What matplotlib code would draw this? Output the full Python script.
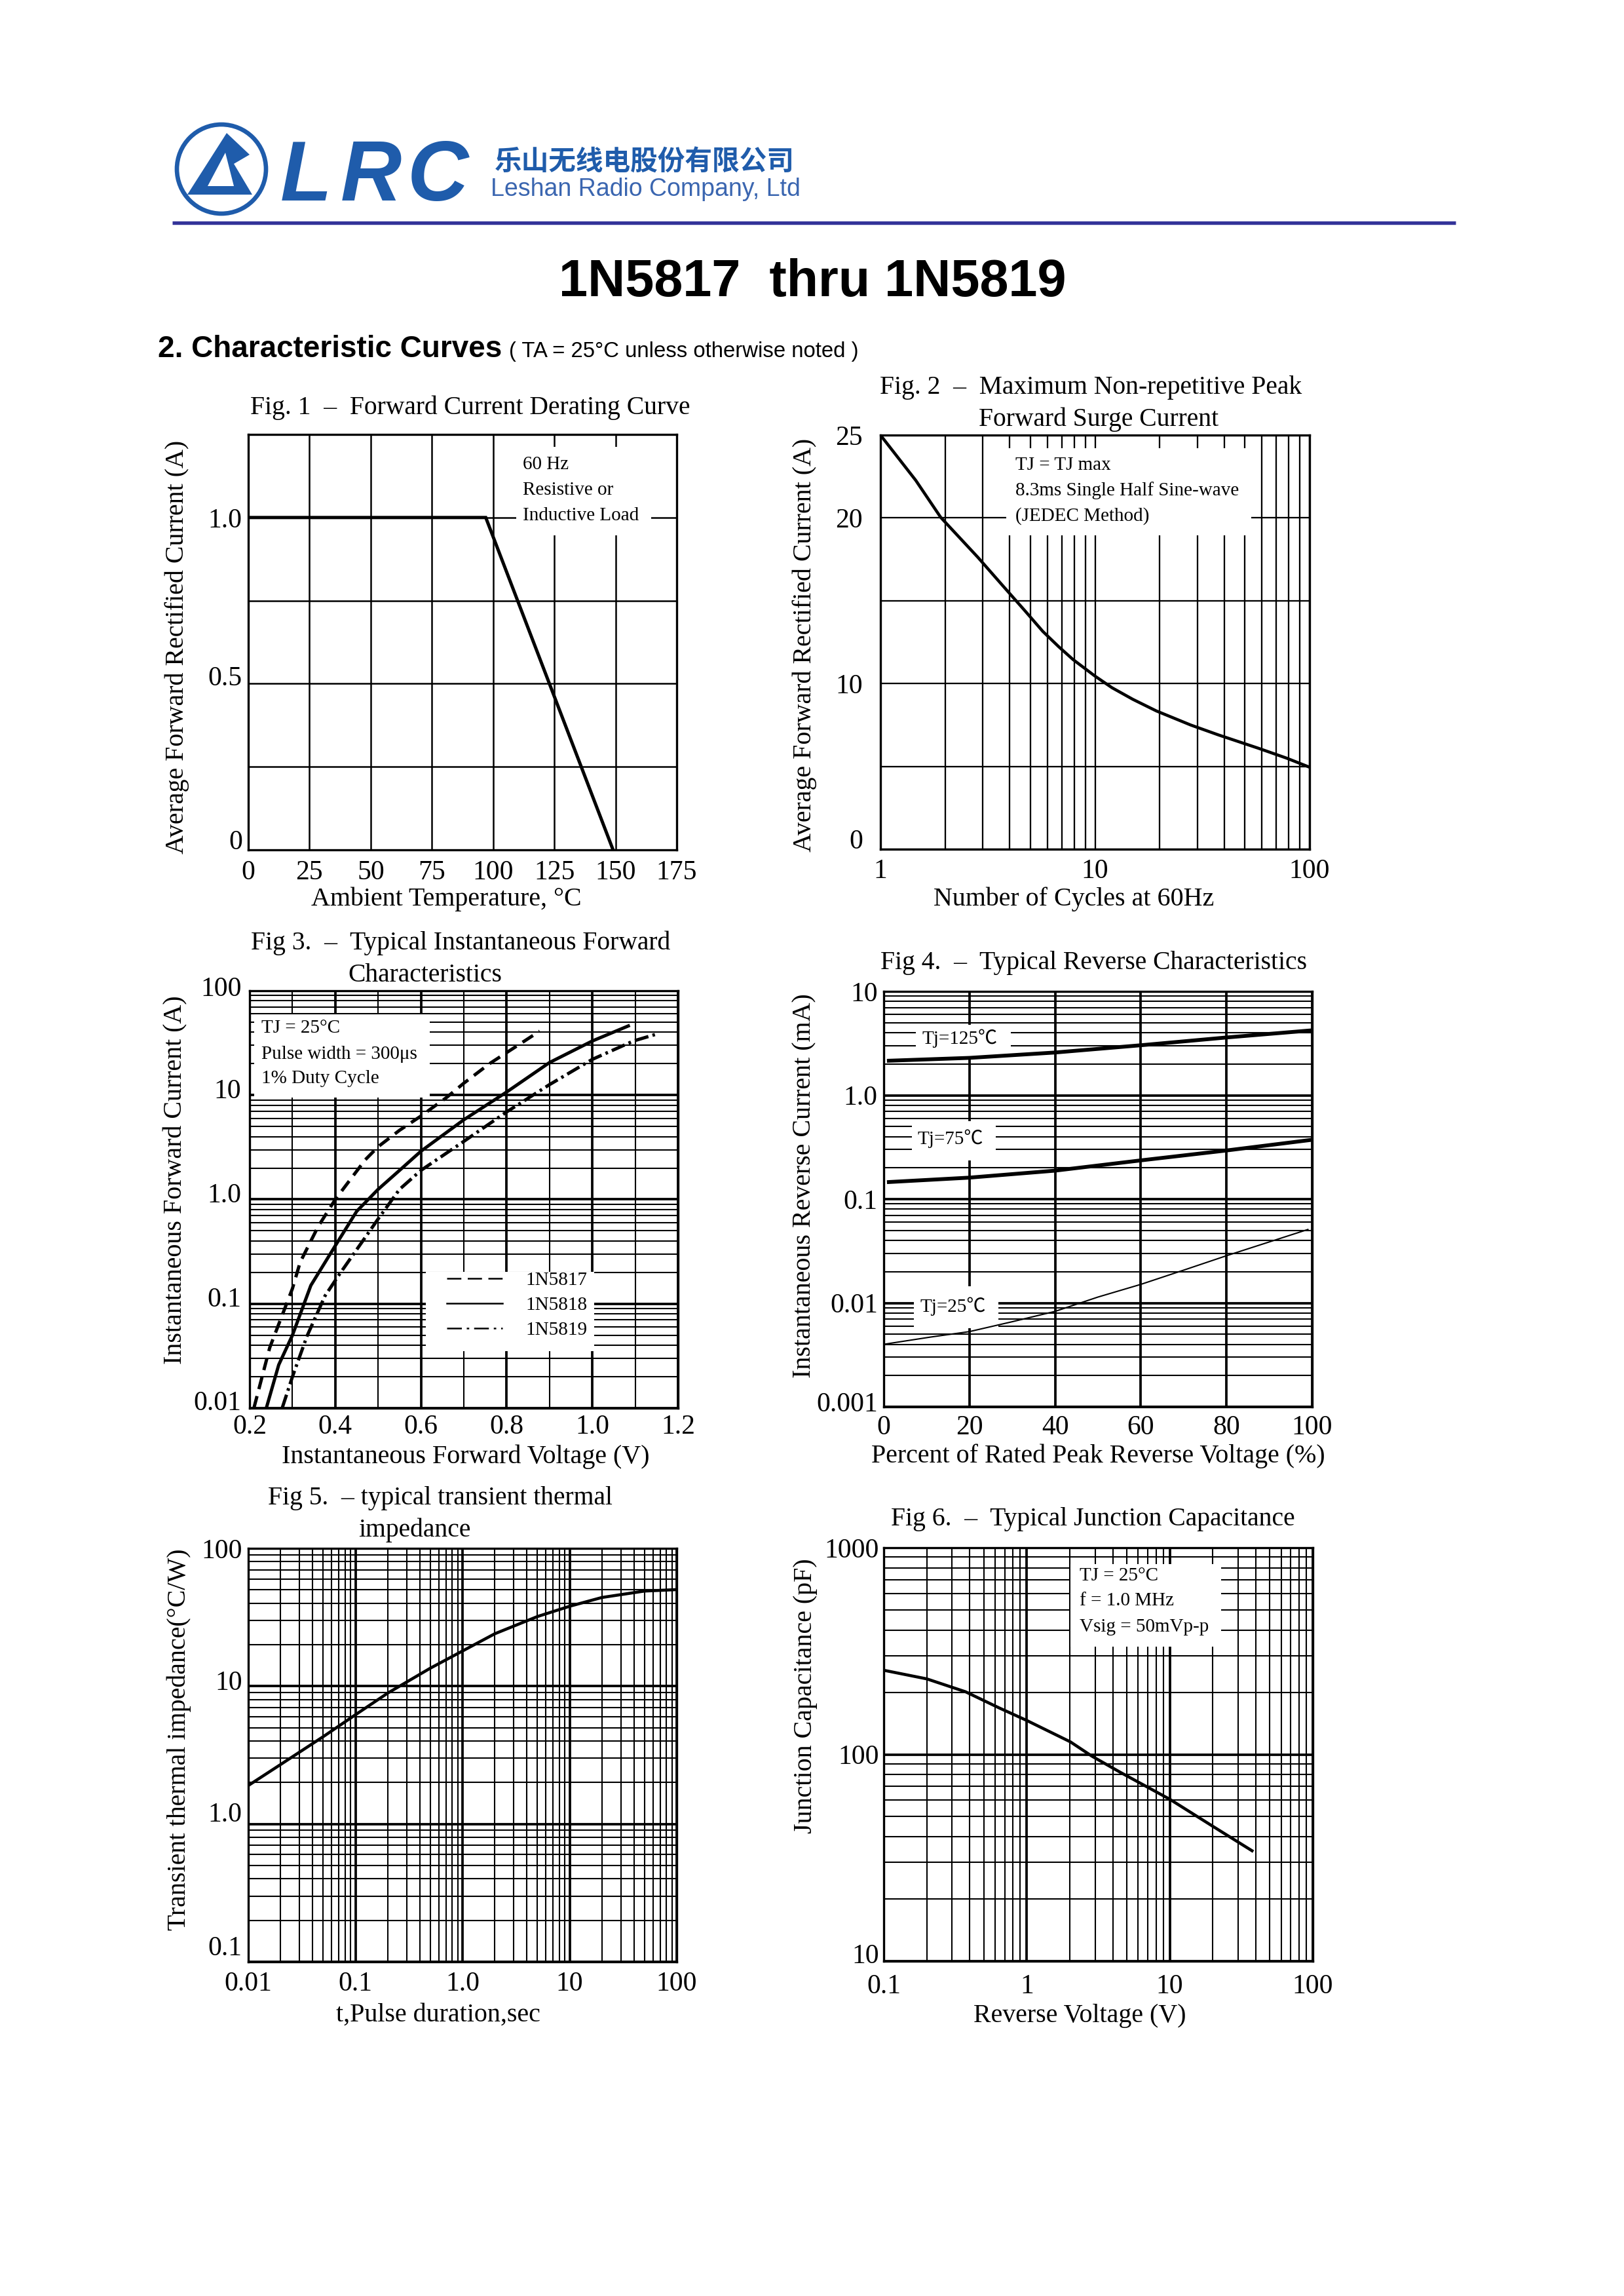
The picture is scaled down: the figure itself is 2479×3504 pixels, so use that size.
import matplotlib
matplotlib.use('Agg')
import matplotlib.pyplot as plt
from matplotlib.patches import Rectangle, Circle, Polygon
from matplotlib.ticker import FixedLocator, NullFormatter
from matplotlib.lines import Line2D
from matplotlib.transforms import ScaledTranslation

plt.rcParams['font.family'] = ['Liberation Serif', 'Noto Sans CJK SC']

# ---------------- data ----------------
# Fig 1 - derating curve
fig1_temp = [0, 97, 149]
fig1_current = [1.0, 1.0, 0.0]
fig1_xticks = [0, 25, 50, 75, 100, 125, 150, 175]
fig1_xlabels = ['0', '25', '50', '75', '100', '125', '150', '175']
fig1_yticks = [0, 0.5, 1.0]
fig1_ylabels = ['0', '0.5', '1.0']

# Fig 2 - surge current
fig2_cycles = [1, 1.46, 1.91, 2.85, 3.75, 4.71, 5.71, 6.78, 7.9, 10, 12, 15, 19.3, 27.9, 37.6, 57.6, 78.1, 100]
fig2_current = [25, 22.27, 20.03, 17.61, 15.85, 14.4, 13.15, 12.22, 11.45, 10.45, 9.75, 9.05, 8.35, 7.5, 6.9, 6.1, 5.5, 4.95]
fig2_xticks = [1, 10, 100]
fig2_xlabels = ['1', '10', '100']
fig2_yticks = [0, 10, 20, 25]
fig2_ylabels = ['0', '10', '20', '25']

# Fig 3 - forward characteristics
v_1n5817 = [0.21, 0.247, 0.30, 0.318, 0.36, 0.40, 0.47, 0.50, 0.55, 0.60, 0.66, 0.70, 0.76, 0.815, 0.877]
i_1n5817 = [0.01, 0.038, 0.14, 0.25, 0.55, 1.0, 2.4, 3.2, 4.6, 6.3, 9.5, 13, 20, 28, 41]
v_1n5818 = [0.239, 0.268, 0.30, 0.343, 0.40, 0.45, 0.50, 0.55, 0.60, 0.70, 0.80, 0.90, 1.00, 1.084]
i_1n5818 = [0.01, 0.026, 0.05, 0.15, 0.36, 0.77, 1.25, 1.9, 2.9, 5.8, 10.7, 20.5, 33, 46]
v_1n5819 = [0.276, 0.30, 0.334, 0.376, 0.409, 0.50, 0.55, 0.60, 0.70, 0.80, 0.90, 1.00, 1.096, 1.146]
i_1n5819 = [0.01, 0.02, 0.049, 0.119, 0.19, 0.65, 1.25, 1.9, 3.6, 6.9, 12.6, 22, 33, 38]
fig3_xticks = [0.2, 0.4, 0.6, 0.8, 1.0, 1.2]
fig3_xlabels = ['0.2', '0.4', '0.6', '0.8', '1.0', '1.2']
fig3_yticks = [0.01, 0.1, 1, 10, 100]
fig3_ylabels = ['0.01', '0.1', '1.0', '10', '100']

# Fig 4 - reverse characteristics
pct_125 = [1.2, 20, 40, 60, 80, 99.4]
ir_125 = [2.15, 2.29, 2.58, 3.03, 3.6, 4.2]
pct_75 = [1.2, 20, 40, 60, 80, 99.4]
ir_75 = [0.146, 0.161, 0.188, 0.236, 0.294, 0.37]
pct_25 = [0, 11, 20, 30, 40, 50, 60, 70, 80, 99]
ir_25 = [0.0040, 0.0047, 0.0053, 0.0066, 0.0083, 0.0114, 0.0151, 0.0207, 0.0285, 0.051]
fig4_xticks = [0, 20, 40, 60, 80, 100]
fig4_xlabels = ['0', '20', '40', '60', '80', '100']
fig4_yticks = [0.001, 0.01, 0.1, 1, 10]
fig4_ylabels = ['0.001', '0.01', '0.1', '1.0', '10']

# Fig 5 - transient thermal impedance
pulse_t = [0.0104, 0.02, 0.05, 0.1, 0.2, 0.5, 1, 2, 5, 10, 20, 50, 100]
z_th = [1.94, 2.7, 4.3, 6.2, 8.9, 13.5, 18, 24, 32, 38, 44, 49, 50.2]
fig5_xticks = [0.01, 0.1, 1, 10, 100]
fig5_xlabels = ['0.01', '0.1', '1.0', '10', '100']
fig5_yticks = [0.1, 1, 10, 100]
fig5_ylabels = ['0.1', '1.0', '10', '100']

# Fig 6 - junction capacitance
v_rev = [0.104, 0.2, 0.373, 0.64, 1.0, 2.02, 2.86, 4.5, 10, 20, 37.6]
c_j = [254, 232, 201, 168, 146, 115, 98, 82, 60.7, 44.9, 34.2]
fig6_xticks = [0.1, 1, 10, 100]
fig6_xlabels = ['0.1', '1', '10', '100']
fig6_yticks = [10, 100, 1000]
fig6_ylabels = ['10', '100', '1000']

# ---------------- page ----------------
W, H, DPI = 2479, 3504, 300
fig = plt.figure(figsize=(W / DPI, H / DPI), dpi=DPI, facecolor='white')
page = fig.add_axes([0, 0, 1, 1])
page.set_xlim(0, W)
page.set_ylim(H, 0)
page.axis('off')

BLUE = '#1f5cab'
# logo
page.add_patch(Circle((338, 258), 68, fill=False, lw=1.6, ec=BLUE))
page.add_patch(Polygon([(346, 203), (381, 236), (357, 250), (385, 297), (286, 297)],
                       closed=True, fc=BLUE, ec='none'))
page.add_patch(Polygon([(317, 284), (344, 233), (357, 284)], closed=True, fc='white', ec='none'))
for ch, cx in zip('LRC', [467, 566, 668]):
    page.text(cx, 306, ch, ha='center', va='baseline', fontsize=31, fontweight='bold',
              style='italic', family='Liberation Sans', color=BLUE)
page.text(984, 248, '乐山无线电股份有限公司', ha='center', va='center', fontsize=10,
          family='Noto Sans CJK SC', fontweight='bold', color=BLUE)
page.text(985, 299, 'Leshan Radio Company, Ltd', ha='center', va='baseline', fontsize=9,
          family='Liberation Sans', color='#3b66b0')
page.plot([263, 2222], [340, 340], color='#333399', lw=1.3, solid_capstyle='butt')

page.text(1240, 452, '1N5817  thru 1N5819', ha='center', va='baseline', fontsize=19,
          fontweight='bold', family='Liberation Sans')
page.text(241, 545, '2. Characteristic Curves', ha='left', va='baseline', fontsize=11,
          fontweight='bold', family='Liberation Sans')
page.text(777, 545, '( TA = 25°C unless otherwise noted )', ha='left', va='baseline',
          fontsize=7.9, family='Liberation Sans')


def make_axes(x0, y0, x1, y1):
    return fig.add_axes([x0 / W, 1 - y1 / H, (x1 - x0) / W, (y1 - y0) / H])


def style(ax, xscale, yscale, xlim, ylim, xmaj, xlab, xmin_, ymaj, ylab, ymin_,
          xpad, ypad, major_lw=0.55, minor_lw=0.55):
    ax.set_xscale(xscale)
    ax.set_yscale(yscale)
    ax.set_xlim(*xlim)
    ax.set_ylim(*ylim)
    ax.xaxis.set_major_locator(FixedLocator(xmaj))
    ax.xaxis.set_minor_locator(FixedLocator(xmin_))
    ax.yaxis.set_major_locator(FixedLocator(ymaj))
    ax.yaxis.set_minor_locator(FixedLocator(ymin_))
    ax.set_xticklabels(xlab)
    ax.set_yticklabels(ylab)
    ax.xaxis.set_minor_formatter(NullFormatter())
    ax.yaxis.set_minor_formatter(NullFormatter())
    ax.tick_params(which='both', length=0, labelsize=10)
    ax.tick_params(axis='x', pad=xpad)
    ax.tick_params(axis='y', pad=ypad)
    ax.grid(True, which='major', color='black', linewidth=major_lw)
    ax.grid(True, which='minor', color='black', linewidth=minor_lw)
    ax.set_axisbelow(True)
    for s in ax.spines.values():
        s.set_linewidth(0.8)
        s.set_zorder(2.5)


def raise_ylabels(ax, shifts_pt):
    """Nudge y tick labels upward (points), as in the printed sheet."""
    for lab, dy in zip(ax.get_yticklabels(), shifts_pt):
        if dy:
            lab.set_transform(lab.get_transform() +
                              ScaledTranslation(0, dy / 72.0, fig.dpi_scale_trans))


def blank(ax, x0, y0, x1, y1):
    ax.add_patch(Rectangle((x0, y0), x1 - x0, y1 - y0, transform=ax.transAxes,
                           facecolor='white', edgecolor='none', zorder=1))


def note(ax, x, y, s, ha='left'):
    ax.text(x, y, s, transform=ax.transAxes, fontsize=7, ha=ha, va='center', zorder=4)


def log_minors(e0, e1):
    return [k * 10.0 ** e for e in range(e0, e1) for k in range(2, 10)]


TSZ = 9.5
LSZ = 9.6

# ---------------- Fig 1 ----------------
ax1 = make_axes(379, 663, 1033, 1297)
style(ax1, 'linear', 'linear', (0, 175), (0, 1.25), fig1_xticks, fig1_xlabels, [],
      fig1_yticks, fig1_ylabels, [0.25, 0.75, 1.25], xpad=3.8, ypad=2.2, major_lw=0.6, minor_lw=0.6)
raise_ylabels(ax1, [3.8, 3.0, 0])
blank(ax1, 0.6255, 0.757, 0.940, 0.970)
note(ax1, 0.640, 0.928, '60 Hz')
note(ax1, 0.640, 0.866, 'Resistive or')
note(ax1, 0.640, 0.805, 'Inductive Load')
ax1.plot(fig1_temp, fig1_current, color='black', lw=1.2, zorder=3, solid_joinstyle='miter')
page.text(718, 632, 'Fig. 1  –  Forward Current Derating Curve', ha='center', va='baseline', fontsize=TSZ)
page.text(681, 1382, 'Ambient Temperature, °C', ha='center', va='baseline', fontsize=LSZ)
page.text(270, 987, 'Average Forward Rectified Current (A)', ha='center', va='center',
          rotation=90, fontsize=LSZ)

# ---------------- Fig 2 ----------------
ax2 = make_axes(1344, 664, 1999, 1296)
fig2_xminor = [k * 10.0 ** e for e in range(0, 2) for k in range(2, 10)]
style(ax2, 'log', 'linear', (1, 100), (0, 25), fig2_xticks, fig2_xlabels, fig2_xminor,
      fig2_yticks, fig2_ylabels, [5, 15], xpad=3.4, ypad=6.5, major_lw=0.55, minor_lw=0.55)
raise_ylabels(ax2, [3.8, 0, 0, 0])
blank(ax2, 0.293, 0.758, 0.864, 0.969)
note(ax2, 0.314, 0.928, 'TJ = TJ max')
note(ax2, 0.314, 0.866, '8.3ms Single Half Sine-wave')
note(ax2, 0.314, 0.804, '(JEDEC Method)')
ax2.plot(fig2_cycles, fig2_current, color='black', lw=1.1, zorder=3)
page.text(1665, 601, 'Fig. 2  –  Maximum Non-repetitive Peak', ha='center', va='baseline', fontsize=TSZ)
page.text(1677, 650, 'Forward Surge Current', ha='center', va='baseline', fontsize=TSZ)
page.text(1639, 1382, 'Number of Cycles at 60Hz', ha='center', va='baseline', fontsize=LSZ)
page.text(1228, 984, 'Average Forward Rectified Current (A)', ha='center', va='center',
          rotation=90, fontsize=LSZ)

# ---------------- Fig 3 ----------------
ax3 = make_axes(381, 1512, 1035, 2149)
fig3_xminor = [0.3, 0.5, 0.7, 0.9, 1.1]
style(ax3, 'linear', 'log', (0.2, 1.2), (0.01, 100), fig3_xticks, fig3_xlabels, fig3_xminor,
      fig3_yticks, fig3_ylabels, log_minors(-2, 2), xpad=2.4, ypad=3.0, major_lw=0.9, minor_lw=0.5)
raise_ylabels(ax3, [2.7, 2.5, 2.5, 2.5, 1.5])
blank(ax3, 0.010, 0.744, 0.420, 0.943)
note(ax3, 0.028, 0.910, 'TJ = 25°C')
note(ax3, 0.028, 0.848, 'Pulse width = 300μs')
note(ax3, 0.028, 0.789, '1% Duty Cycle')
blank(ax3, 0.412, 0.137, 0.805, 0.326)
ax3.plot(v_1n5817, i_1n5817, color='black', lw=1.2, ls=(0, (3.8, 2.2)), zorder=3)
ax3.plot(v_1n5818, i_1n5818, color='black', lw=1.2, zorder=3)
ax3.plot(v_1n5819, i_1n5819, color='black', lw=1.2, ls=(0, (4.3, 1.3, 0.8, 1.3)), zorder=3)
handles = [Line2D([], [], color='black', lw=0.6, ls=(0, (8.7, 3.9))),
           Line2D([], [], color='black', lw=0.6),
           Line2D([], [], color='black', lw=0.6, ls=(0, (9, 3, 1.5, 3)))]
leg = ax3.legend(handles, ['1N5817', '1N5818', '1N5819'], loc='center left',
                 bbox_to_anchor=(0.461, 0.247), frameon=False, fontsize=7,
                 handlelength=2.9, handletextpad=1.2, labelspacing=0.4,
                 borderpad=0, borderaxespad=0)
leg.set_zorder(5)
page.text(703, 1449, 'Fig 3.  –  Typical Instantaneous Forward', ha='center', va='baseline', fontsize=TSZ)
page.text(649, 1498, 'Characteristics', ha='center', va='baseline', fontsize=TSZ)
page.text(711, 2233, 'Instantaneous Forward Voltage (V)', ha='center', va='baseline', fontsize=LSZ)
page.text(268, 1801, 'Instantaneous Forward Current (A)', ha='center', va='center',
          rotation=90, fontsize=LSZ)

# ---------------- Fig 4 ----------------
ax4 = make_axes(1349, 1513, 2003, 2147)
style(ax4, 'linear', 'log', (0, 100), (0.001, 10), fig4_xticks, fig4_xlabels, [],
      fig4_yticks, fig4_ylabels, log_minors(-3, 1), xpad=3.1, ypad=2.2, major_lw=0.9, minor_lw=0.5)
raise_ylabels(ax4, [1.8, 0, 0, 0, 0])
blank(ax4, 0.0746, 0.840, 0.296, 0.920)
blank(ax4, 0.066, 0.593, 0.261, 0.688)
blank(ax4, 0.070, 0.190, 0.267, 0.290)
note(ax4, 0.178, 0.887, 'Tj=125℃', ha='center')
note(ax4, 0.155, 0.645, 'Tj=75℃', ha='center')
note(ax4, 0.162, 0.242, 'Tj=25℃', ha='center')
ax4.plot(pct_125, ir_125, color='black', lw=1.4, zorder=3)
ax4.plot(pct_75, ir_75, color='black', lw=1.4, zorder=3)
ax4.plot(pct_25, ir_25, color='black', lw=0.5, zorder=3)
page.text(1670, 1479, 'Fig 4.  –  Typical Reverse Characteristics', ha='center', va='baseline', fontsize=TSZ)
page.text(1676, 2232, 'Percent of Rated Peak Reverse Voltage (%)', ha='center', va='baseline', fontsize=LSZ)
page.text(1228, 1810, 'Instantaneous Reverse Current (mA)', ha='center', va='center',
          rotation=90, fontsize=LSZ)

# ---------------- Fig 5 ----------------
ax5 = make_axes(379, 2363, 1033, 2994)
style(ax5, 'log', 'log', (0.01, 100), (0.1, 100), fig5_xticks, fig5_xlabels, log_minors(-2, 2),
      fig5_yticks, fig5_ylabels, log_minors(-1, 2), xpad=3.6, ypad=2.2, major_lw=0.9, minor_lw=0.5)
raise_ylabels(ax5, [6.0, 4.3, 2.2, 0])
ax5.plot(pulse_t, z_th, color='black', lw=1.1, zorder=3)
page.text(672, 2296, 'Fig 5.  – typical transient thermal', ha='center', va='baseline', fontsize=TSZ)
page.text(633, 2345, 'impedance', ha='center', va='baseline', fontsize=TSZ)
page.text(669, 3085, 't,Pulse duration,sec', ha='center', va='baseline', fontsize=LSZ)
page.text(273, 2655, 'Transient thermal impedance(°C/W)', ha='center', va='center',
          rotation=90, fontsize=LSZ)

# ---------------- Fig 6 ----------------
ax6 = make_axes(1349, 2362, 2004, 2993)
style(ax6, 'log', 'log', (0.1, 100), (10, 1000), fig6_xticks, fig6_xlabels, log_minors(-1, 2),
      fig6_yticks, fig6_ylabels, log_minors(1, 3), xpad=4.6, ypad=1.7, major_lw=0.9, minor_lw=0.5)
raise_ylabels(ax6, [2.7, 0, 0])
blank(ax6, 0.435, 0.761, 0.787, 0.961)
note(ax6, 0.456, 0.932, 'TJ = 25°C')
note(ax6, 0.456, 0.871, 'f = 1.0 MHz')
note(ax6, 0.456, 0.809, 'Vsig = 50mVp-p')
ax6.plot(v_rev, c_j, color='black', lw=1.1, zorder=3)
page.text(1668, 2328, 'Fig 6.  –  Typical Junction Capacitance', ha='center', va='baseline', fontsize=TSZ)
page.text(1648, 3086, 'Reverse Voltage (V)', ha='center', va='baseline', fontsize=LSZ)
page.text(1230, 2588, 'Junction Capacitance (pF)', ha='center', va='center',
          rotation=90, fontsize=LSZ)

fig.savefig('out.png', dpi=DPI, facecolor='white')
